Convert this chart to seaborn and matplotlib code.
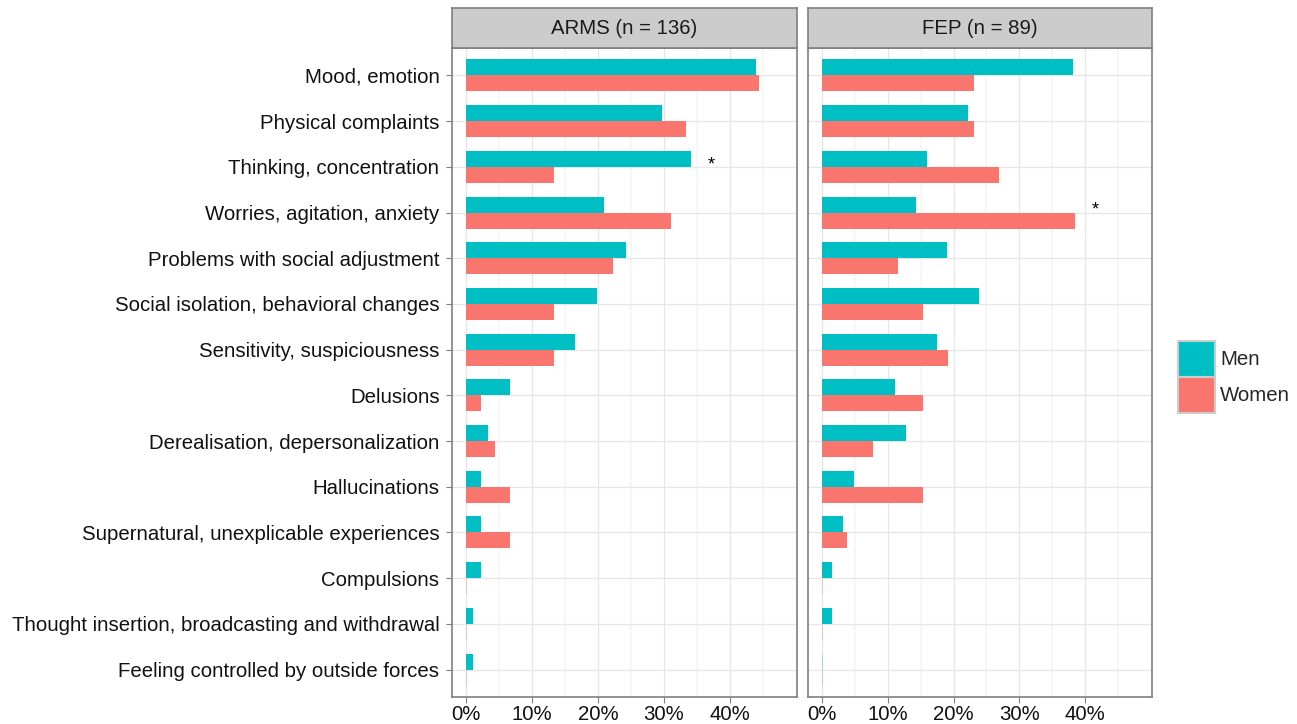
import matplotlib
matplotlib.use("Agg")
import matplotlib.pyplot as plt
from matplotlib.patches import Patch
import seaborn as sns
import pandas as pd

symptoms = [
    "Mood, emotion",
    "Physical complaints",
    "Thinking, concentration",
    "Worries, agitation, anxiety",
    "Problems with social adjustment",
    "Social isolation, behavioral changes",
    "Sensitivity, suspiciousness",
    "Delusions",
    "Derealisation, depersonalization",
    "Hallucinations",
    "Supernatural, unexplicable experiences",
    "Compulsions",
    "Thought insertion, broadcasting and withdrawal",
    "Feeling controlled by outside forces",
]
groups = ["ARMS (n = 136)", "FEP (n = 89)"]
sexes = ["Men", "Women"]

# percentage of patients reporting each first symptom
arms_men = [44.0, 29.7, 34.1, 20.9, 24.2, 19.8, 16.5, 6.6, 3.3, 2.2, 2.2, 2.2, 1.1, 1.1]
arms_women = [44.4, 33.3, 13.3, 31.1, 22.2, 13.3, 13.3, 2.2, 4.4, 6.7, 6.7, 0.0, 0.0, 0.0]
fep_men = [38.1, 22.2, 15.9, 14.3, 19.0, 23.8, 17.5, 11.1, 12.7, 4.8, 3.2, 1.6, 1.6, 0.0]
fep_women = [23.1, 23.1, 26.9, 38.5, 11.5, 15.4, 19.2, 15.4, 7.7, 15.4, 3.8, 0.0, 0.0, 0.0]

# significant sex differences: (group, symptom)
significant = [("ARMS (n = 136)", "Thinking, concentration"),
               ("FEP (n = 89)", "Worries, agitation, anxiety")]

rows = []
for grp, men, women in [(groups[0], arms_men, arms_women), (groups[1], fep_men, fep_women)]:
    for s, m, w in zip(symptoms, men, women):
        rows.append({"group": grp, "symptom": s, "sex": "Men", "pct": m})
        rows.append({"group": grp, "symptom": s, "sex": "Women", "pct": w})
df = pd.DataFrame(rows)

palette = {"Men": "#00BFC4", "Women": "#F8766D"}

sns.set_theme(style="white")
plt.rcParams["font.family"] = ["Liberation Sans", "DejaVu Sans"]
FS = 14.7
plt.rcParams["font.size"] = FS

W, H = 1297, 724
fig = plt.figure(figsize=(W / 100, H / 100), dpi=100)

def fx(px):
    return px / W

def fy(py):
    return 1 - py / H

panel_top, panel_bot = 48, 697
strip_top = 8
panels = [(452, 797), (808, 1152)]

for i, (grp, (x0, x1)) in enumerate(zip(groups, panels)):
    ax = fig.add_axes([fx(x0), fy(panel_bot), fx(x1 - x0), (panel_bot - panel_top) / H])
    sub = df[df["group"] == grp]
    ax.set_axisbelow(True)
    # minor and major grid
    for v in [5, 15, 25, 35, 45]:
        ax.axvline(v, color="#f7f7f7", lw=1.3, zorder=0)
    for v in [0, 10, 20, 30, 40]:
        ax.axvline(v, color="#e6e6e6", lw=0.9, zorder=0)
    for k in range(len(symptoms)):
        ax.axhline(k, color="#e6e6e6", lw=0.9, zorder=0)

    sns.barplot(data=sub, y="symptom", x="pct", hue="sex", order=symptoms,
                hue_order=sexes, palette=palette, orient="h", width=0.7,
                saturation=1, errorbar=None, legend=False, ax=ax, zorder=2,
                linewidth=0)
    for p in ax.patches:
        if p.get_width() == 0:
            p.set_edgecolor(p.get_facecolor())
            p.set_linewidth(0.6)
            p.set_alpha(0.35)

    for g, s in significant:
        if g == grp:
            vals = sub[sub["symptom"] == s]["pct"].max()
            ax.text(vals + 3, symptoms.index(s) - 0.05, "*", ha="center",
                    va="center", fontsize=13, color="black")

    ax.set_xlim(-2.12, 50.15)
    ax.set_ylim(len(symptoms) - 0.4, -0.6)
    ax.set_xticks([0, 10, 20, 30, 40])
    ax.set_xticklabels([f"{v}%" for v in [0, 10, 20, 30, 40]])
    ax.set_xlabel("")
    ax.set_ylabel("")
    ax.tick_params(axis="both", length=4, width=0.8, color="#7f7f7f",
                   labelsize=FS, labelcolor="#111111", pad=3)
    ax.tick_params(axis="y", left=True, pad=5)
    ax.tick_params(axis="x", bottom=True, pad=2)
    if i > 0:
        ax.set_yticklabels([])
        ax.tick_params(axis="y", left=False)
    for sp in ax.spines.values():
        sp.set_visible(True)
        sp.set_color("#7f7f7f")
        sp.set_linewidth(1.2)

    # facet strip
    sax = fig.add_axes([fx(x0), fy(panel_top), fx(x1 - x0), (panel_top - strip_top) / H])
    sax.set_facecolor("#cccccc")
    sax.set_xticks([])
    sax.set_yticks([])
    for sp in sax.spines.values():
        sp.set_visible(True)
        sp.set_color("#7f7f7f")
        sp.set_linewidth(1.2)
    sax.text(0.5, 0.48, grp, ha="center", va="center", fontsize=FS,
             color="#1a1a1a", transform=sax.transAxes)

handles = [Patch(facecolor=palette[s], edgecolor="#cccccc", linewidth=1.5) for s in sexes]
fig.legend(handles, sexes, loc="center left", bbox_to_anchor=(fx(1164), fy(377)),
           frameon=False, handlelength=1.8, handleheight=2.34, labelspacing=0.0,
           handletextpad=0.25, fontsize=FS, borderpad=0.2)

fig.savefig("out.png", dpi=100)
